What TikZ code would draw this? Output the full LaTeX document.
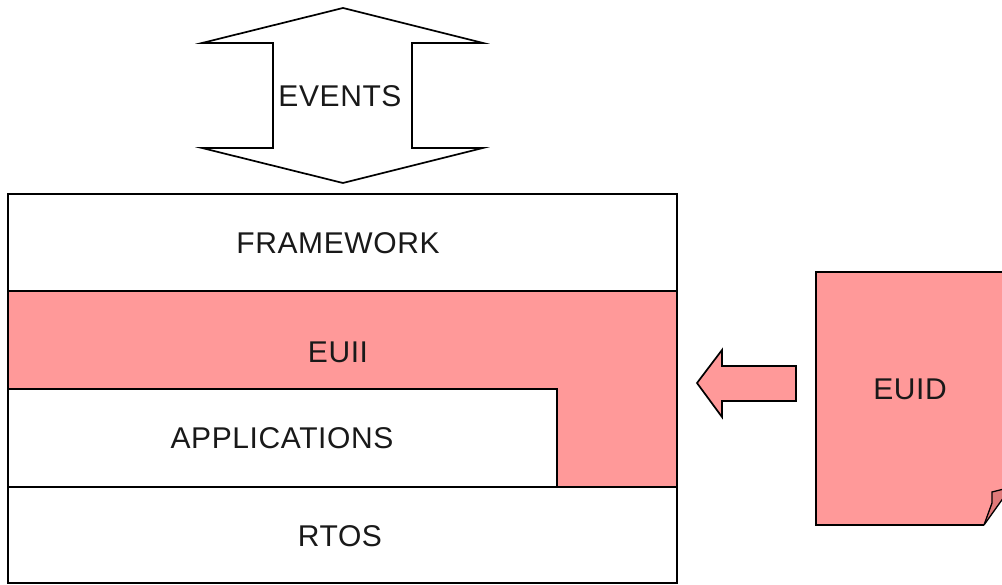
\documentclass[tikz,border=0pt]{standalone}
\usepackage{fontspec}
\setmainfont{Liberation Sans}[LetterSpace=2]
\definecolor{layerpink}{HTML}{FF9999}
\definecolor{foldpink}{HTML}{E07A7A}
\tikzset{
  outline/.style={draw=black, line width=1.7pt, line join=miter},
  label/.style={font=\fontsize{30}{32}\selectfont, inner sep=0pt, text=black!90},
}
\begin{document}
\begin{tikzpicture}[x=1pt, y=-1pt]
\useasboundingbox (0,0) rectangle (1002,585);
\fill[white] (0,0) rectangle (1002,585);

% EUID document sheet with curled corner (runs past the right edge)
\begin{scope}
\clip (0,0) rectangle (1002,585);
\fill[layerpink] (816,272) -- (1010,272) -- (1010,489) -- (1002,490)
  -- (984,525) -- (816,525) -- cycle;
\draw[outline] (1010,272) -- (816,272) -- (816,525) -- (984,525);
\fill[foldpink] (992,492) -- (1004,489) -- (1004,497) -- (984,525) -- (992,503) -- cycle;
\draw[line width=1.3pt] (984,525) -- (992,503) -- (992,492) -- (1004,489);
\draw[line width=1.3pt] (984,525) -- (1004,497);
\end{scope}
\node[label] (euid) at (910,389) {EUID};

% Block arrow pointing from EUID towards the EUII layer
\filldraw[outline, fill=layerpink] (796,366) -- (722,366) -- (722,350) -- (697,383)
  -- (722,417) -- (722,401) -- (796,401) -- cycle;

% Layered stack
\fill[layerpink] (8,291) rectangle (677,487);
\fill[white] (8,389) rectangle (557,487);
\draw[outline] (8,194) rectangle (677,583);
\draw[outline] (8,291) -- (677,291);
\draw[outline] (8,389) -- (557,389) -- (557,487);
\draw[outline] (8,487) -- (677,487);

\node[label] (framework) at (338,243) {FRAMEWORK};
\node[label] (euii) at (338,352) {EUII};
\node[label] (apps) at (282,438) {APPLICATIONS};
\node[label] (rtos) at (340,536) {RTOS};

% Double-headed EVENTS arrow
\draw[outline, fill=white] (343,8) -- (483,43) -- (412,43) -- (412,148) -- (483,148)
  -- (343,183) -- (202,148) -- (273,148) -- (273,43) -- (202,43) -- cycle;
\node[label] (events) at (340,96) {EVENTS};
\end{tikzpicture}
\end{document}
